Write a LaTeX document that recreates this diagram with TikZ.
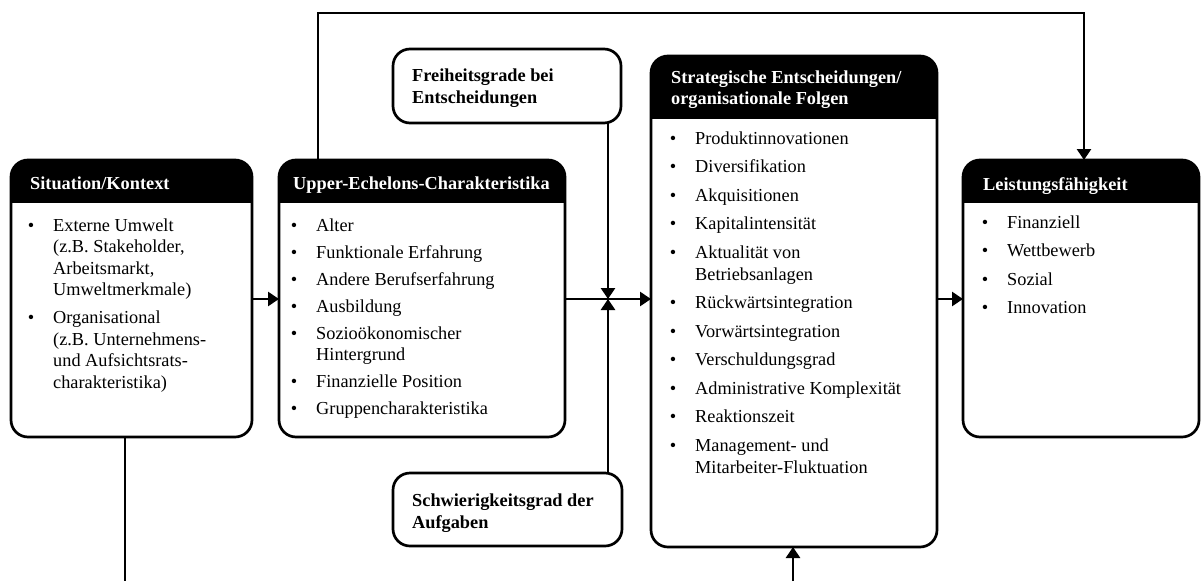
\documentclass[tikz,border=0pt]{standalone}
\usepackage{fontspec}
\setmainfont{Liberation Serif}
\usetikzlibrary{arrows.meta}
\newcommand\mybul{\llap{\textbullet\hspace{19pt}}}
\newcommand\fst{\rule{0pt}{16pt}}
\begin{document}
\begin{tikzpicture}[x=1pt,y=-1pt,
  lw/.style={line width=2.7pt},
  box/.style={draw, lw, rounded corners=17pt, rectangle, anchor=north west, inner sep=0pt, outer sep=0pt},
  htext/.style={text=white, font=\fontsize{18.3}{21.5}\selectfont\bfseries, anchor=north west, inner sep=0pt, align=left},
  btext/.style={font=\fontsize{18.3}{22}\selectfont\bfseries, anchor=north west, inner sep=0pt, align=left},
  list/.style={font=\fontsize{18.3}{21.5}\selectfont, anchor=north west, inner sep=0pt, align=left},
  arr/.style={lw, -{Triangle[length=11pt,width=14pt]}},
]
\useasboundingbox (0,0) rectangle (1201,581);

% header fills
\begin{scope}
  \clip[rounded corners=17pt] (11,160) rectangle (252,437);
  \fill (11,160) rectangle (252,203);
\end{scope}
\begin{scope}
  \clip[rounded corners=17pt] (279,160) rectangle (565,437);
  \fill (279,160) rectangle (565,203);
\end{scope}
\begin{scope}
  \clip[rounded corners=17pt] (651,56) rectangle (937,547);
  \fill (651,56) rectangle (937,119);
\end{scope}
\begin{scope}
  \clip[rounded corners=17pt] (963,160) rectangle (1199,437);
  \fill (963,160) rectangle (1199,203);
\end{scope}

% boxes
\node[box, minimum width=241pt, minimum height=277pt] (sit) at (11,160) {};
\node[box, minimum width=286pt, minimum height=277pt] (ue) at (279,160) {};
\node[box, minimum width=286pt, minimum height=491pt] (str) at (651,56) {};
\node[box, minimum width=236pt, minimum height=277pt] (lei) at (963,160) {};
\node[box, minimum width=228pt, minimum height=74pt] (frei) at (393,49) {};
\node[box, minimum width=229pt, minimum height=73pt] (schw) at (393,473) {};

% headers
\node[htext] (sith) at (30,173) {\fst Situation/Kontext};
\node[htext] (ueh) at (293,173) {\fst Upper-Echelons-Charakteristika};
\node[htext] (strh) at (671,67) {\fst Strategische Entscheidungen/\\organisationale Folgen};
\node[htext] (leih) at (983,174) {\fst Leistungsf\"ahigkeit};
\node[btext] (freit) at (412,65) {\fst Freiheitsgrade bei\\Entscheidungen};
\node[btext] (schwt) at (412,490) {\fst Schwierigkeitsgrad der\\Aufgaben};

% lists
\node[list] (sitl) at (53,215) {\mybul\fst Externe Umwelt\\(z.B. Stakeholder,\\Arbeitsmarkt,\\Umweltmerkmale)\\[6.5pt]
\mybul Organisational\\(z.B. Unternehmens-\\und Aufsichtsrats-\\charakteristika)};
\node[list, font=\fontsize{18.3}{21}\selectfont] (uel) at (316,215) {\mybul\fst Alter\\[6pt]
\mybul Funktionale Erfahrung\\[6pt]
\mybul Andere Berufserfahrung\\[6pt]
\mybul Ausbildung\\[6pt]
\mybul Sozio\"okonomischer\\Hintergrund\\[6pt]
\mybul Finanzielle Position\\[6pt]
\mybul Gruppencharakteristika};
\node[list, font=\fontsize{18.3}{22}\selectfont] (strl) at (695,128) {\mybul\fst Produktinnovationen\\[6.5pt]
\mybul Diversifikation\\[6.5pt]
\mybul Akquisitionen\\[6.5pt]
\mybul Kapitalintensit\"at\\[6.5pt]
\mybul Aktualit\"at von\\Betriebsanlagen\\[6.5pt]
\mybul R\"uckw\"artsintegration\\[6.5pt]
\mybul Vorw\"artsintegration\\[6.5pt]
\mybul Verschuldungsgrad\\[6.5pt]
\mybul Administrative Komplexit\"at\\[6.5pt]
\mybul Reaktionszeit\\[6.5pt]
\mybul Management- und\\Mitarbeiter-Fluktuation};
\node[list, font=\fontsize{18.3}{22}\selectfont] (leil) at (1007,212) {\mybul\fst Finanziell\\[6.5pt]
\mybul Wettbewerb\\[6.5pt]
\mybul Sozial\\[6.5pt]
\mybul Innovation};

% connectors
\coordinate (mid) at (0,299);
\coordinate (vx) at (608,299);
\coordinate (t1) at (318,13);
\coordinate (t2) at (1084,13);
\coordinate (b1) at (125,581);
\coordinate (b2) at (793,581);

\draw[arr] (ue.north -| t1) -- (t1) -- (t2) -- (lei.north -| t2);
\draw[arr] (sit.east |- mid) -- (ue.west |- mid);
\draw[arr] (ue.east |- mid) -- (str.west |- mid);
\draw[arr] (str.east |- mid) -- (lei.west |- mid);
\draw[arr] (frei.south -| vx) -- (vx);
\draw[arr] (schw.north -| vx) -- (vx);
\draw[lw] (sit.south -| b1) -- (b1);
\draw[arr] (b2) -- (str.south -| b2);
\end{tikzpicture}
\end{document}
